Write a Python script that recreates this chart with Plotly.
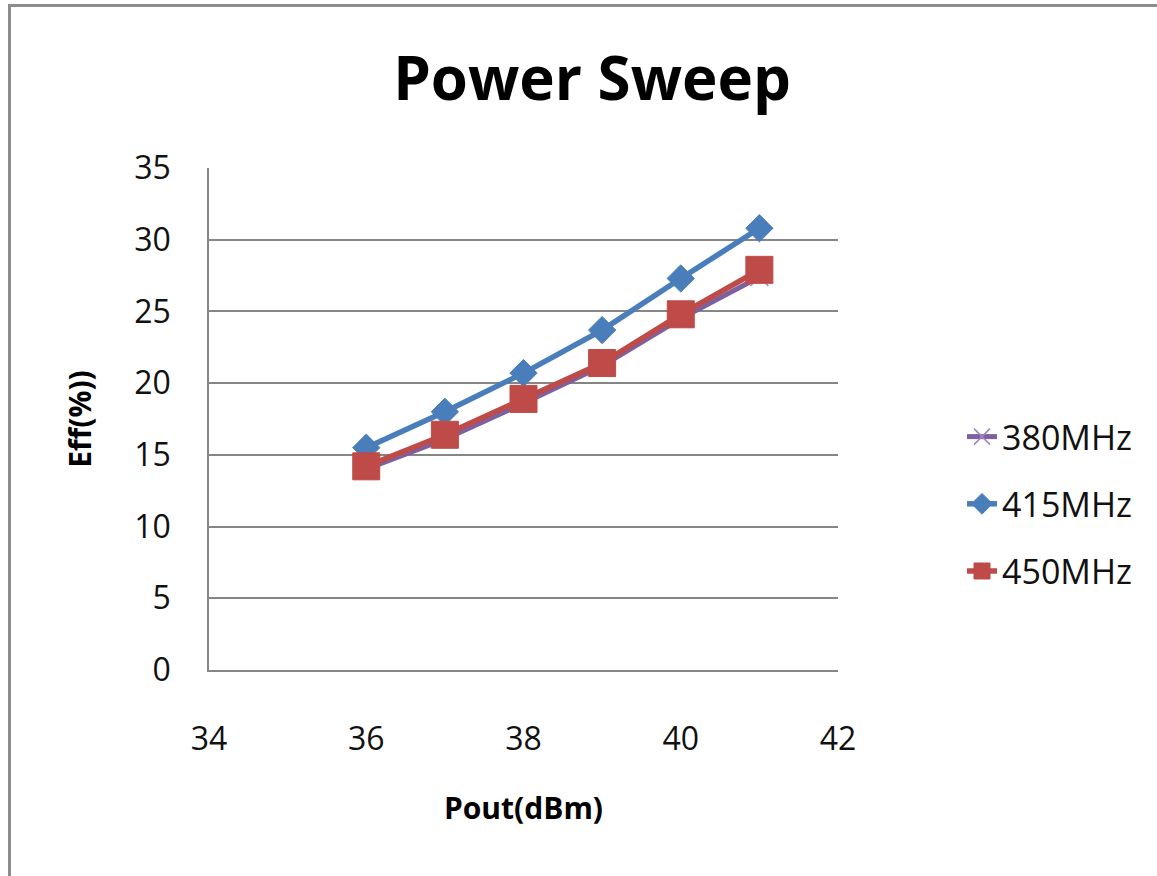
import plotly.graph_objects as go

# Output power sweep (dBm) and drain efficiency (%) at three frequencies
pout_dbm = [36, 37, 38, 39, 40, 41]
eff_380 = [14.0, 16.1, 18.6, 21.2, 24.5, 27.4]
eff_415 = [15.5, 18.0, 20.7, 23.7, 27.3, 30.8]
eff_450 = [14.2, 16.4, 18.9, 21.4, 24.8, 27.9]

series_names = ["380MHz", "415MHz", "450MHz"]
x_ticks = [34, 36, 38, 40, 42]
y_ticks = [0, 5, 10, 15, 20, 25, 30, 35]

W, H = 1157, 876
L, R, T, B = 209, 319, 168, 206
plot_w = W - L - R
plot_h = H - T - B

FONT = "Open Sans"
GRID = "#868686"

fig = go.Figure()

fig.add_trace(go.Scatter(
    x=pout_dbm, y=eff_380, name=series_names[0], mode="lines+markers",
    legendgroup="a",
    line=dict(color="#7d60a0", width=5),
    marker=dict(symbol="x-thin", size=18, color="#9b86c0",
                line=dict(color="#9b86c0", width=1.5)),
))
fig.add_trace(go.Scatter(
    x=pout_dbm, y=eff_415, name=series_names[1], mode="lines+markers",
    legendgroup="b",
    line=dict(color="#4a7ebb", width=5.5),
    marker=dict(symbol="diamond", size=21, color="#4a7ebb",
                line=dict(color="#4a7ebb", width=1)),
))
fig.add_trace(go.Scatter(
    x=pout_dbm, y=eff_450, name=series_names[2], mode="lines+markers",
    legendgroup="c",
    line=dict(color="#be4b48", width=5.5),
    marker=dict(symbol="square", size=27, color="#be4b48",
                line=dict(color="#be4b48", width=1)),
))


def px_x(p):
    return (p - L) / plot_w


def px_y(p):
    return (H - B - p) / plot_h


# Chart-area frame (top and left edges visible)
frame_path = "M {x0},{y0} L {x0},{y1} L {x2},{y1}".format(
    x0=px_x(9.5), y0=px_y(H + 10), y1=px_y(5.5), x2=px_x(W + 10))

fig.update_layout(
    width=W, height=H,
    margin=dict(l=L, r=R, t=T, b=B, autoexpand=False),
    paper_bgcolor="white", plot_bgcolor="white",
    font=dict(family=FONT, color="#111111"),
    title=dict(text="<b>Power Sweep</b>", x=592 / W, xanchor="center",
               y=1 - 79 / H, yanchor="middle", yref="container",
               font=dict(size=60, family=FONT, color="#000000")),
    showlegend=True,
    legend=dict(x=px_x(962), xanchor="left", y=px_y(408), yanchor="top",
                font=dict(size=34, family=FONT, color="#111111"),
                traceorder="grouped", tracegroupgap=20,
                bgcolor="rgba(0,0,0,0)", itemsizing="trace"),
    shapes=[dict(type="path", path=frame_path, xref="paper", yref="paper",
                 line=dict(color="#8c8c8c", width=3), layer="below")],
)

fig.update_xaxes(
    range=[34, 42], tickvals=x_ticks, ticktext=[str(v) for v in x_ticks],
    showgrid=False, zeroline=False,
    showline=True, linecolor=GRID, linewidth=1.5,
    ticks="", tickfont=dict(size=32, family=FONT, color="#111111"),
    ticklabelstandoff=40,
    title=dict(text="<b>Pout(dBm)</b>", font=dict(size=30, family=FONT, color="#000000"),
               standoff=40),
)
fig.update_yaxes(
    range=[0, 35], tickvals=y_ticks, ticktext=[str(v) for v in y_ticks],
    showgrid=True, gridcolor=GRID, gridwidth=1.5, zeroline=False,
    showline=True, linecolor=GRID, linewidth=1.5,
    ticks="", tickfont=dict(size=32, family=FONT, color="#111111"),
    ticklabelstandoff=30,
    title=dict(text="<b>Eff(%))</b>", font=dict(size=30, family=FONT, color="#000000"),
               standoff=34),
)

fig.write_html("out.html")
